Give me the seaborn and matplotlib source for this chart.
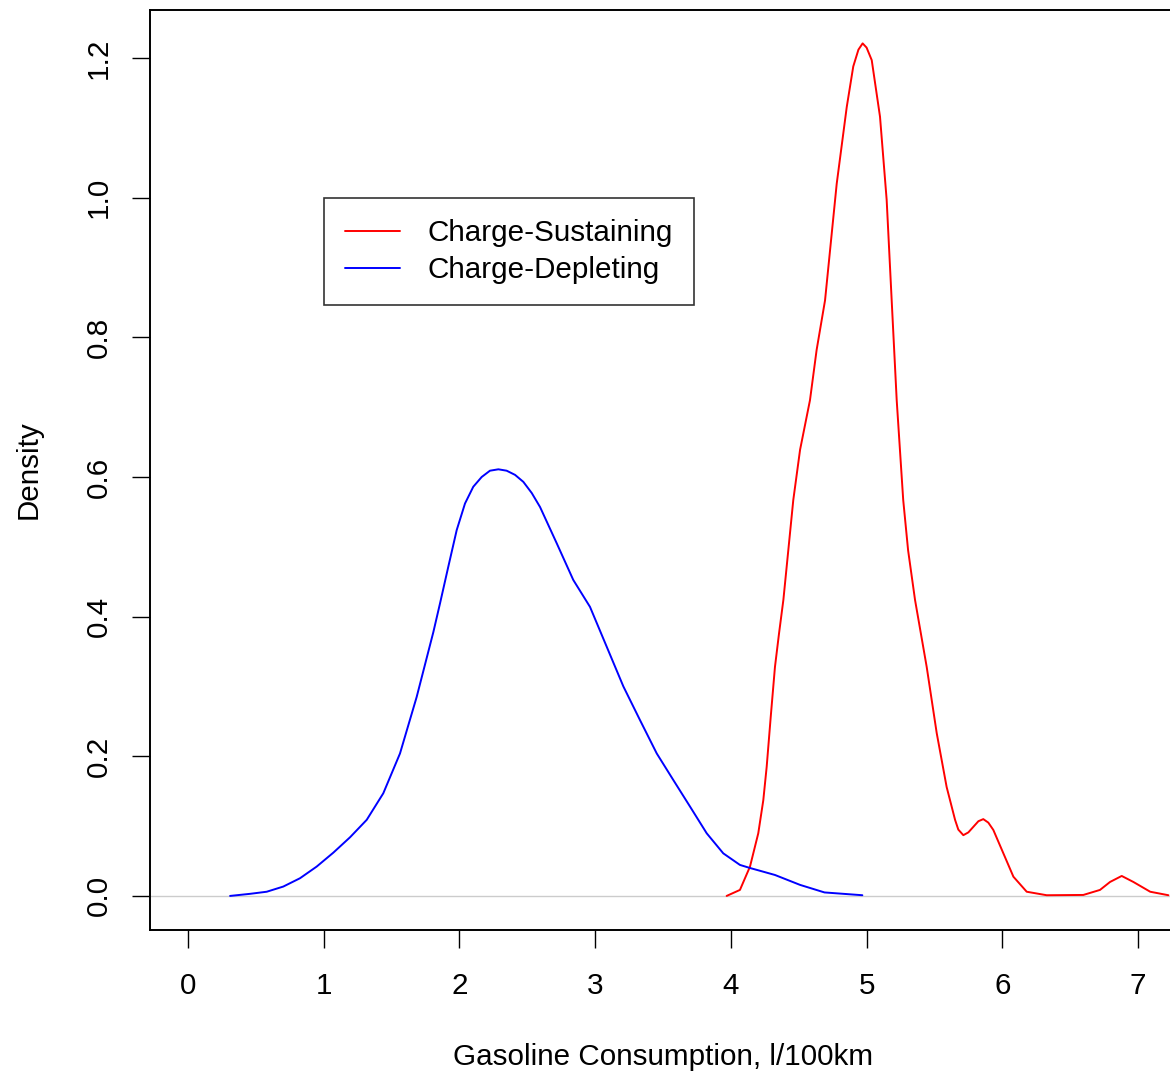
import matplotlib
matplotlib.use('Agg')
import matplotlib.pyplot as plt
import pandas as pd
import seaborn as sns

# density curves
sustaining_x = [3.969, 4.067, 4.141, 4.202, 4.239, 4.264, 4.294, 4.325, 4.355, 4.387, 4.46, 4.51,
                4.583, 4.632, 4.694, 4.78, 4.854, 4.902, 4.94, 4.971, 5.0, 5.038, 5.099, 5.148,
                5.185, 5.222, 5.27, 5.306, 5.357, 5.443, 5.517, 5.59, 5.652, 5.676, 5.713, 5.75,
                5.787, 5.824, 5.86, 5.897, 5.934, 6.008, 6.082, 6.18, 6.327, 6.597, 6.72, 6.794,
                6.88, 6.966, 7.09, 7.224]
sustaining_y = [0.0, 0.0086, 0.042, 0.0897, 0.137, 0.185, 0.257, 0.328, 0.376, 0.424, 0.567, 0.639,
                0.71, 0.782, 0.853, 1.02, 1.13, 1.188, 1.212, 1.221, 1.215, 1.197, 1.116, 0.997,
                0.853, 0.71, 0.567, 0.495, 0.424, 0.328, 0.233, 0.156, 0.109, 0.095, 0.087, 0.091,
                0.099, 0.107, 0.11, 0.105, 0.0945, 0.061, 0.0275, 0.006, 0.001, 0.0014, 0.0086, 0.02,
                0.0286, 0.02, 0.006, 0.001]

depleting_x = [0.31, 0.457, 0.58, 0.702, 0.825, 0.948, 1.071, 1.194, 1.317, 1.439, 1.562, 1.685,
               1.808, 1.857, 1.918, 1.98, 2.041, 2.102, 2.164, 2.225, 2.287, 2.348, 2.41, 2.471,
               2.533, 2.594, 2.717, 2.839, 2.962, 3.085, 3.208, 3.33, 3.454, 3.576, 3.699, 3.822,
               3.944, 4.067, 4.141, 4.215, 4.325, 4.51, 4.69, 4.969]
depleting_y = [0.0, 0.003, 0.006, 0.0134, 0.0253, 0.042, 0.062, 0.084, 0.109, 0.147, 0.204, 0.285,
               0.378, 0.419, 0.4715, 0.524, 0.562, 0.586, 0.600, 0.609, 0.611, 0.609, 0.603, 0.593,
               0.577, 0.557, 0.505, 0.4525, 0.414, 0.357, 0.30, 0.252, 0.204, 0.166, 0.128, 0.0897,
               0.061, 0.0444, 0.040, 0.036, 0.030, 0.0158, 0.005, 0.001]

labels = ['Charge-Sustaining', 'Charge-Depleting']
colors = {'Charge-Sustaining': 'red', 'Charge-Depleting': 'blue'}

df = pd.concat([
    pd.DataFrame({'x': sustaining_x, 'y': sustaining_y, 'mode': labels[0]}),
    pd.DataFrame({'x': depleting_x, 'y': depleting_y, 'mode': labels[1]}),
])

sns.set_style('white')
plt.rcParams['font.family'] = ['Liberation Sans', 'DejaVu Sans']
plt.rcParams['text.color'] = 'black'
plt.rcParams['axes.labelcolor'] = 'black'
fs = 21.3

fig = plt.figure(figsize=(11.7, 10.71), dpi=100)
ax = fig.add_axes([150 / 1170, 141 / 1071, 1026 / 1170, 920 / 1071])

ax.axhline(0, color='#cccccc', lw=1.0, zorder=1)
sns.lineplot(data=df, x='x', y='y', hue='mode', hue_order=labels, palette=colors,
             sort=False, estimator=None, lw=1.4, ax=ax)

ax.set_xlim(-0.28, 7.28)
ax.set_ylim(-0.0488, 1.2688)
ax.set_xticks(range(0, 8))
ax.set_yticks([0.0, 0.2, 0.4, 0.6, 0.8, 1.0, 1.2])
ax.set_yticklabels(['0.0', '0.2', '0.4', '0.6', '0.8', '1.0', '1.2'], rotation=90, va='center')
ax.tick_params(axis='both', direction='out', length=13, width=1.0,
               labelsize=fs, color='black', labelcolor='black', bottom=True, left=True)
ax.tick_params(axis='x', pad=17.5)
ax.tick_params(axis='y', pad=14)

for s in ax.spines.values():
    s.set_visible(True)
    s.set_color('black')
    s.set_linewidth(1.4)

ax.set_xlabel('Gasoline Consumption, l/100km', fontsize=fs, labelpad=31, color='black')
ax.set_ylabel('Density', fontsize=fs, labelpad=30.5, color='black')

handles, _ = ax.get_legend_handles_labels()
leg = ax.legend(handles, labels, loc='upper left', bbox_to_anchor=(0.1696, 0.7957),
                borderaxespad=0, fontsize=fs, frameon=True, fancybox=False, edgecolor='black',
                handlelength=1.86, handletextpad=0.91, borderpad=0.72, labelspacing=0.3)
leg.get_frame().set_linewidth(1.2)
for line in leg.get_lines():
    line.set_linewidth(1.4)
for t in leg.get_texts():
    t.set_color('black')

plt.savefig('out.png', dpi=100)
